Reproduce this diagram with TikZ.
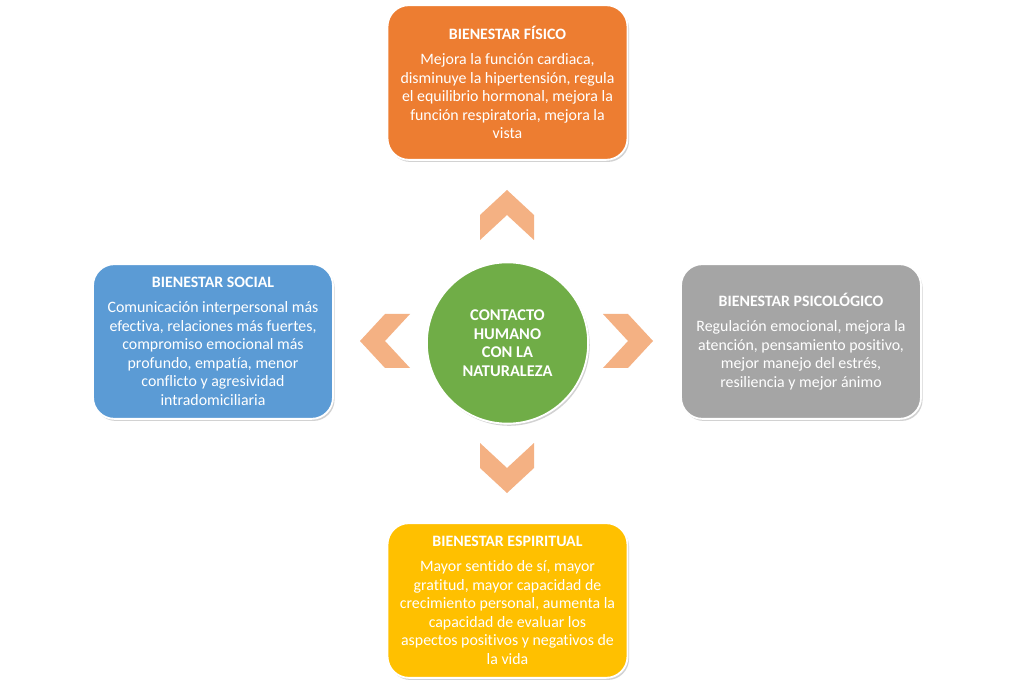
\documentclass[tikz,border=0pt]{standalone}
\usepackage{fontspec}
\setmainfont{Carlito}[Ligatures=NoCommon]
\usepackage{tikz}
\usetikzlibrary{shadows}
\definecolor{naranjafisico}{HTML}{ED7D31}
\definecolor{azulsocial}{HTML}{5B9BD5}
\definecolor{grispsico}{HTML}{A5A5A5}
\definecolor{oroespiritual}{HTML}{FFC000}
\definecolor{verdecontacto}{HTML}{70AD47}
\definecolor{flechacolor}{HTML}{F4B183}
\begin{document}
\begin{tikzpicture}[x=0.75pt,y=0.75pt,
	caja/.style={draw=white,line width=1.4pt,rounded corners=16pt,minimum width=180pt,minimum height=116pt,align=center,text=white,inner sep=2pt,font=\fontsize{11.9}{13.9}\selectfont,drop shadow={shadow xshift=1.2pt,shadow yshift=-1.6pt,opacity=0.35}},
	circulo/.style={circle,draw=white,line width=1.4pt,minimum size=121pt,fill=verdecontacto,align=center,text=white,font=\bfseries\fontsize{12.3}{13.9}\selectfont,drop shadow={shadow xshift=1.2pt,shadow yshift=-1.6pt,opacity=0.35}},
	flecha/.pic={\fill[flechacolor] (0,25) -- (27,0) -- (27,-25) -- (0,0) -- (-27,-25) -- (-27,0) -- cycle;}]
			\fill[white] (0,0) rectangle (1014,690);
			\useasboundingbox (0,0) rectangle (1014,690);
			
			\node[caja,fill=naranjafisico] (fisico) at (507.5,607.5) {\textbf{BIENESTAR FÍSICO}\\[4.9pt]Mejora la función cardiaca,\\disminuye la hipertensión, regula\\el equilibrio hormonal, mejora la\\función respiratoria, mejora la\\vista};
			\node[caja,fill=azulsocial] (social) at (213,348.5) {\textbf{BIENESTAR SOCIAL}\\[4.9pt]Comunicación interpersonal más\\efectiva, relaciones más fuertes,\\compromiso emocional más\\profundo, empatía, menor\\conflicto y agresividad\\intradomiciliaria};
			\node[caja,fill=grispsico] (psicologico) at (801,348.5) {\textbf{BIENESTAR PSICOLÓGICO}\\[4.9pt]Regulación emocional, mejora la\\atención, pensamiento positivo,\\mejor manejo del estrés,\\resiliencia y mejor ánimo};
			\node[caja,fill=oroespiritual] (espiritual) at (507.5,89.5) {\textbf{BIENESTAR ESPIRITUAL}\\[4.9pt]Mayor sentido de sí, mayor\\gratitud, mayor capacidad de\\crecimiento personal, aumenta la\\capacidad de evaluar los\\aspectos positivos y negativos de\\la vida};
			
			\node[circulo] (contacto) at (507.5,347) {CONTACTO\\HUMANO\\CON LA\\NATURALEZA};
			
			\foreach \px/\py/\ang in {507/475/0,507/222/180,385/349/90,628/349/-90}
			\pic[rotate=\ang] at (\px,\py) {flecha};
		\end{tikzpicture}
\end{document}
